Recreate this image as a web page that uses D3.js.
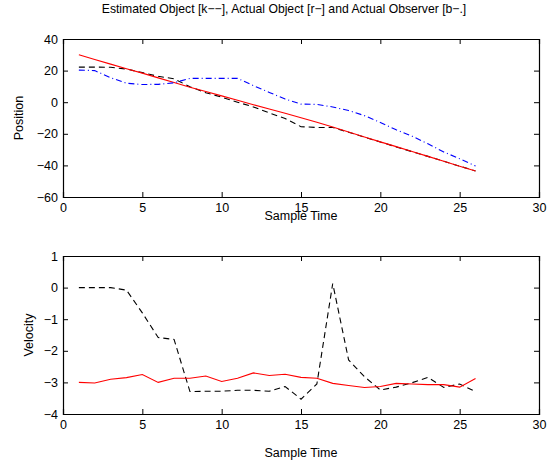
<!DOCTYPE html>
<html>
<head>
<meta charset="utf-8">
<script src="https://cdn.jsdelivr.net/npm/d3@7"></script>
<style>
  body { margin: 0; background: #fff; }
  svg text { font-family: "Liberation Sans", Arial, Helvetica, sans-serif; fill: #000; }
</style>
</head>
<body>
<div id="chart-area"></div>
<script>
// sample index 1..26
const samples = d3.range(1, 27);

// position (top panel)
const estPos = [22.2, 22.2, 22.1, 21.0, 18.7, 16.4, 14.8, 9.8, 6.0, 3.2, 0.0, -3.0, -6.8, -10.3,
                -15.5, -16.0, -16.0, -19.0, -22.1, -25.2, -28.3, -31.3, -34.3, -37.4, -40.5, -43.5];
const actPos = [30.0, 27.0, 24.1, 21.2, 18.4, 15.4, 12.5, 9.5, 6.8, 4.0, 1.2, -1.6, -4.3, -7.0,
                -9.8, -12.7, -15.7, -18.8, -22.0, -25.1, -28.1, -31.2, -34.3, -37.4, -40.5, -43.6];
const obsPos = [20.3, 20.0, 15.5, 12.0, 11.2, 11.3, 12.3, 15.1, 15.1, 15.1, 15.1, 10.5, 6.2, 2.0,
                -1.2, -1.4, -3.0, -5.3, -8.5, -12.8, -17.5, -21.5, -26.3, -31.5, -35.8, -40.4];

// velocity (bottom panel)
const estVel = [0, 0, 0, -0.08, -0.8, -1.58, -1.64, -3.29, -3.28, -3.28, -3.25, -3.25, -3.28, -3.13,
                -3.53, -3.05, 0.13, -2.29, -2.82, -3.24, -3.15, -3.01, -2.84, -3.16, -3.05, -3.29];
const actVel = [-3.0, -3.02, -2.9, -2.85, -2.75, -3.0, -2.87, -2.87, -2.8, -2.97, -2.87, -2.7, -2.78, -2.74,
                -2.84, -2.87, -3.03, -3.1, -3.16, -3.13, -3.03, -3.05, -3.07, -3.07, -3.15, -2.88];

const xTicks = [0, 5, 10, 15, 20, 25, 30];
const posTicks = [-60, -40, -20, 0, 20, 40];
const velTicks = [-4, -3, -2, -1, 0, 1];

const W = 553, H = 463;
const left = 63, right = 539;
const fs = 12.5;

const svg = d3.select("#chart-area").append("svg")
  .attr("width", W)
  .attr("height", H);

// title
svg.append("text")
  .attr("x", 284)
  .attr("y", 13)
  .attr("text-anchor", "middle")
  .attr("font-size", 12.2)
  .text("Estimated Object [k\u2212\u2212], Actual Object [r\u2212] and Actual Observer [b\u2212.]");

const xScale = d3.scaleLinear().domain([0, 30]).range([left, right]);

function fmt(d) { return d < 0 ? "\u2212" + Math.abs(d) : String(d); }

// draws one panel: box, inward ticks on all sides, labels
function panel(top, bottom, yDomain, yTicks, yLabel, yLabelX, xLabelY, series) {
  const yScale = d3.scaleLinear().domain(yDomain).range([bottom, top]);
  const g = svg.append("g");

  g.append("g")
    .attr("transform", "translate(0," + bottom + ")")
    .call(d3.axisBottom(xScale).tickValues(xTicks).tickSize(-5).tickPadding(6).tickFormat(fmt));
  g.append("g")
    .attr("transform", "translate(0," + top + ")")
    .call(d3.axisTop(xScale).tickValues(xTicks).tickSize(-5).tickFormat(""));
  g.append("g")
    .attr("transform", "translate(" + left + ",0)")
    .call(d3.axisLeft(yScale).tickValues(yTicks).tickSize(-5).tickPadding(5).tickFormat(fmt));
  g.append("g")
    .attr("transform", "translate(" + right + ",0)")
    .call(d3.axisRight(yScale).tickValues(yTicks).tickSize(-5).tickFormat(""));

  g.selectAll(".domain").attr("stroke", "#000").attr("stroke-width", 1.2);
  g.selectAll(".tick line").attr("stroke", "#000");
  g.selectAll(".tick text").attr("font-size", fs).attr("fill", "#000")
    .attr("font-family", "Liberation Sans, Arial, sans-serif");

  const line = d3.line()
    .x((d, i) => xScale(samples[i]))
    .y(d => yScale(d));

  series.forEach(s => {
    g.append("path")
      .datum(s.values)
      .attr("fill", "none")
      .attr("stroke", s.color)
      .attr("stroke-width", 1.1)
      .attr("stroke-dasharray", s.dash)
      .attr("d", line);
  });

  g.append("text")
    .attr("transform", "translate(" + yLabelX + "," + ((top + bottom) / 2) + ") rotate(-90)")
    .attr("text-anchor", "middle")
    .attr("font-size", fs)
    .text(yLabel);

  g.append("text")
    .attr("x", (left + right) / 2)
    .attr("y", xLabelY)
    .attr("text-anchor", "middle")
    .attr("font-size", fs)
    .text("Sample Time");
}

panel(39, 197, [-60, 40], posTicks, "Position", 23, 220, [
  { values: estPos, color: "#000", dash: "6,4" },
  { values: actPos, color: "#ff0000", dash: null },
  { values: obsPos, color: "#0000ff", dash: "6,3,1,3" }
]);

panel(256, 414, [-4, 1], velTicks, "Velocity", 33, 457, [
  { values: estVel, color: "#000", dash: "6,4" },
  { values: actVel, color: "#ff0000", dash: null }
]);
</script>
</body>
</html>
